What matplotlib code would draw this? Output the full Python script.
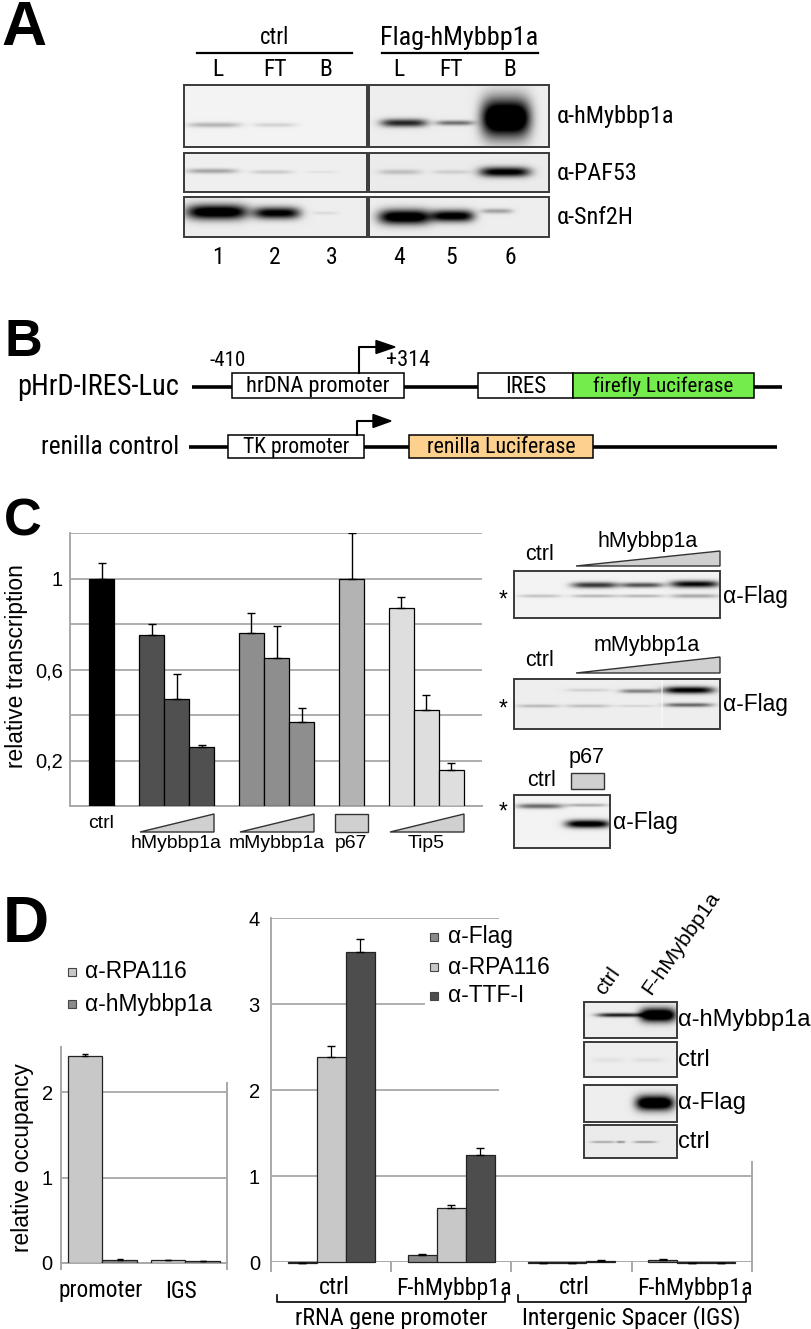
import numpy as np
import matplotlib
matplotlib.use('Agg')
import matplotlib.pyplot as plt
from matplotlib.patches import Rectangle, Polygon
from matplotlib import font_manager
from matplotlib.textpath import TextPath
from matplotlib.font_manager import FontProperties

# ---------------- data ----------------
# Panel C: relative transcription (luciferase reporter)
c_groups = ['ctrl', 'hMybbp1a', 'mMybbp1a', 'p67', 'Tip5']
c_ctrl = [1.00]
c_ctrl_err = [0.07]
c_hmyb = [0.75, 0.47, 0.26]
c_hmyb_err = [0.05, 0.11, 0.01]
c_mmyb = [0.76, 0.65, 0.37]
c_mmyb_err = [0.09, 0.14, 0.06]
c_p67 = [1.00]
c_p67_err = [0.20]
c_tip5 = [0.87, 0.42, 0.16]
c_tip5_err = [0.05, 0.07, 0.03]
c_yticks = [0.2, 0.6, 1.0]
c_yticklabels = ['0,2', '0,6', '1']
c_grid = [0.2, 0.4, 0.6, 0.8, 1.0, 1.2]

# Panel D left: relative occupancy
dl_cats = ['promoter', 'IGS']
dl_series = ['α-RPA116', 'α-hMybbp1a']
dl_rpa116 = [2.42, 0.03]
dl_rpa116_err = [0.02, 0.0]
dl_hmyb = [0.04, 0.025]
dl_hmyb_err = [0.004, 0.0]
dl_yticks = [0, 1, 2]

# Panel D middle: ChIP
dm_cats = ['ctrl', 'F-hMybbp1a', 'ctrl', 'F-hMybbp1a']
dm_regions = ['rRNA gene promoter', 'Intergenic Spacer (IGS)']
dm_series = ['α-Flag', 'α-RPA116', 'α-TTF-I']
dm_flag = [-0.01, 0.08, -0.01, 0.02]
dm_flag_err = [0.0, 0.015, 0.0, 0.015]
dm_rpa116 = [2.38, 0.63, -0.01, -0.01]
dm_rpa116_err = [0.13, 0.03, 0.0, 0.0]
dm_ttf = [3.60, 1.25, 0.01, -0.01]
dm_ttf_err = [0.16, 0.08, 0.01, 0.0]
dm_yticks = [0, 1, 2, 3, 4]

# Panel A western blot labels
a_conditions = ['ctrl', 'Flag-hMybbp1a']
a_lanes = ['L', 'FT', 'B', 'L', 'FT', 'B']
a_numbers = ['1', '2', '3', '4', '5', '6']
a_antibodies = ['α-hMybbp1a', 'α-PAF53', 'α-Snf2H']

# ---------------- setup ----------------
W, H = 812, 1329
fig = plt.figure(figsize=(W / 100, H / 100), dpi=100)
fig.patch.set_facecolor('white')
names = {f.name for f in font_manager.fontManager.ttflist}
REG = ['Liberation Sans', 'DejaVu Sans']
NAR = REG
NARROW_OK = False
for cand in ['Liberation Sans Narrow', 'Arial Narrow', 'Roboto Condensed',
             'Open Sans Condensed', 'Nimbus Sans Narrow']:
    if cand in names:
        NAR = [cand, 'Liberation Sans', 'DejaVu Sans']
        NARROW_OK = True
        break
NBOOST = 1.0 if NARROW_OK else 1.08
plt.rcParams['font.family'] = REG
renderer = fig.canvas.get_renderer()


def fit_size(s, width, family=REG, weight='normal'):
    t = fig.text(0, 0, s, fontsize=10, family=family, weight=weight)
    w = t.get_window_extent(renderer).width
    t.remove()
    return 10.0 * width / w


def ink_size(s, height_px, family=REG, weight='bold'):
    tp = TextPath((0, 0), s, size=10, prop=FontProperties(family=family, weight=weight))
    h = tp.get_extents().height
    return 10.0 * height_px / (h * 100.0 / 72.0)


def pax(x0, y0, x1, y1):
    return fig.add_axes([x0 / W, 1 - y1 / H, (x1 - x0) / W, (y1 - y0) / H])


ov = fig.add_axes([0, 0, 1, 1], zorder=10)
ov.patch.set_alpha(0)
ov.axis('off')


def T(x, y, s, w=None, size=12, family=REG, **kw):
    if w:
        size = fit_size(s, w, family, kw.get('weight', 'normal'))
    return ov.text(x, y, s, fontsize=size, family=family, **kw)


def px(ax, x, y=0):
    d = ax.transData.transform((x, y))
    return d[0], H - d[1]


def blot(x0, y0, x1, y1, bands, bg=0.93, split=None):
    nx = int((x1 - x0) * 2)
    ny = int((y1 - y0) * 2)
    xs = np.linspace(x0, x1, nx)
    ys = np.linspace(y0, y1, ny)
    X, Y = np.meshgrid(xs, ys)
    img = np.full((ny, nx), bg)
    for cx, cy, w, h, a in bands:
        gx = np.exp(-0.8 * np.abs((X - cx) / (w / 2.0)) ** 4)
        gy = np.exp(-((Y - cy) / (h / 2.0)) ** 2)
        img = img - a * gx * gy
    if split is not None:
        k = np.argmin(np.abs(xs - split))
        img[:, k:k + 2] = 0.99
    img = np.clip(img, 0, 1)
    ov.imshow(img, cmap='gray', vmin=0, vmax=1, extent=(x0, x1, y1, y0),
              aspect='auto', interpolation='bilinear', zorder=3)
    ov.add_patch(Rectangle((x0, y0), x1 - x0, y1 - y0, fill=False,
                           ec='#3a3a3a', lw=1.4, zorder=4))


GRID = '#a8a8a8'


def panel_letter(x, y_base, s, height):
    ov.text(x, y_base, s, fontsize=ink_size(s, height, REG, 'bold'), family=REG,
            weight='bold', ha='left', va='baseline')


# ================= Panel A =================
panel_letter(1, 45, 'A', 43)
sA = fit_size('ctrl', 29, NAR) * NBOOST
T(275, 38, a_conditions[0], size=sA, family=NAR, ha='center', va='center')
T(459, 38, a_conditions[1], size=fit_size(a_conditions[1], 158, NAR) * NBOOST,
  family=NAR, ha='center', va='center')
ov.plot([197, 352], [53, 53], color='k', lw=1.6)
ov.plot([382, 538], [53, 53], color='k', lw=1.6)
lane_x = [218, 275, 326, 399, 451, 510]
for lx, lab, num in zip(lane_x, a_lanes, a_numbers):
    T(lx, 70, lab, size=sA * 1.05, family=NAR, ha='center', va='center')
    T(lx + (6 if num == '3' else 0), 257, num, size=sA * 1.05, family=NAR, ha='center', va='center')

rows = [(85, 147), (153, 192), (197, 237)]
a_bands_left = [
    [(214, 125, 50, 5, 0.25), (275, 125, 40, 4, 0.13)],
    [(212, 171, 48, 5, 0.30), (272, 172, 40, 4, 0.15), (322, 172, 30, 3, 0.06)],
    [(217, 212, 58, 15, 1.15), (277, 213, 44, 12, 1.0), (325, 213, 24, 3, 0.08)],
]
a_bands_right = [
    [(404, 123, 44, 8, 0.8), (455, 123, 36, 5, 0.5), (506, 118, 46, 38, 1.4)],
    [(400, 172, 40, 5, 0.18), (452, 172, 36, 4, 0.12), (505, 172, 48, 10, 1.0)],
    [(405, 217, 50, 15, 1.15), (453, 216, 40, 12, 1.05), (497, 211, 30, 5, 0.3)],
]
bgs = [(0.95, 0.93), (0.94, 0.92), (0.93, 0.93)]
for (y0, y1), bl, br, (g1, g2) in zip(rows, a_bands_left, a_bands_right, bgs):
    blot(184, y0, 367, y1, bl, bg=g1)
    blot(369, y0, 549, y1, br, bg=g2)
sAb = fit_size(a_antibodies[0], 117, NAR) * NBOOST
for (y0, y1), lab in zip(rows, a_antibodies):
    T(557, (y0 + y1) / 2 + 1, lab, size=sAb, family=NAR, ha='left', va='center')

# ================= Panel B =================
panel_letter(4, 356, 'B', 36)
T(179, 387, 'pHrD-IRES-Luc', w=163, family=NAR, ha='right', va='center')
T(179, 447, 'renilla control', w=138, family=NAR, ha='right', va='center')
ov.plot([192, 782], [387, 387], color='k', lw=2.6, zorder=2, solid_capstyle='butt')
ov.plot([189, 777], [447, 447], color='k', lw=2.6, zorder=2, solid_capstyle='butt')
boxes_B = [
    (232, 373, 404, 398, 'white', 'hrDNA promoter', 143),
    (478, 373, 573, 398, 'white', 'IRES', 41),
    (573, 373, 754, 398, '#74ec4c', 'firefly Luciferase', 140),
    (228, 435, 364, 458, 'white', 'TK promoter', 106),
    (409, 435, 593, 458, '#fdd08e', 'renilla Luciferase', 148),
]
for x0, y0, x1, y1, fc, lab, tw in boxes_B:
    ov.add_patch(Rectangle((x0, y0), x1 - x0, y1 - y0, fc=fc, ec='k', lw=1.1, zorder=3))
    T((x0 + x1) / 2, (y0 + y1) / 2 + 1, lab, w=tw, family=NAR, ha='center',
      va='center', zorder=4)
# transcription start arrows
ov.plot([359, 359, 378], [373, 347, 347], color='k', lw=1.5, zorder=4)
ov.add_patch(Polygon([(376, 340.5), (395, 347), (376, 353.5)], closed=True, fc='k', ec='k', zorder=4))
ov.plot([357, 357, 375], [435, 421, 421], color='k', lw=1.5, zorder=4)
ov.add_patch(Polygon([(373, 414.5), (391, 421), (373, 427.5)], closed=True, fc='k', ec='k', zorder=4))
T(228, 361, '-410', w=36, family=NAR, ha='center', va='center')
T(408, 361, '+314', w=44, family=NAR, ha='center', va='center')

# ================= Panel C chart =================
panel_letter(4, 535, 'C', 37)
ax_c = pax(70, 533, 482, 806)
c_series = [c_ctrl, c_hmyb, c_mmyb, c_p67, c_tip5]
c_errs = [c_ctrl_err, c_hmyb_err, c_mmyb_err, c_p67_err, c_tip5_err]
c_colors = ['#000000', '#505050', '#8e8e8e', '#b3b3b3', '#dedede']
c_positions = []
pos = 0
for vals in c_series:
    p = np.arange(len(vals)) + pos
    c_positions.append(p)
    pos = p[-1] + 2
for p, vals, errs, col in zip(c_positions, c_series, c_errs, c_colors):
    ax_c.bar(p, vals, width=1.0, color=col, edgecolor='black', linewidth=0.9, zorder=3)
    ax_c.errorbar(p, vals, yerr=[np.zeros(len(errs)), errs], fmt='none', ecolor='black',
                  elinewidth=1.0, capsize=2.6, capthick=1.0, zorder=4)
ax_c.set_xlim(-1.26, 15.22)
ax_c.set_ylim(0, 1.2)
for g in c_grid:
    ax_c.axhline(g, color=GRID, lw=1.3, zorder=1)
ax_c.set_yticks(c_yticks)
ax_c.set_yticklabels(c_yticklabels)
ax_c.set_xticks([])
tick_size = fit_size('0,6', 28)
ax_c.tick_params(axis='y', length=0, pad=5, labelsize=tick_size)
for s in ['top', 'right']:
    ax_c.spines[s].set_visible(False)
for s in ['left', 'bottom']:
    ax_c.spines[s].set_color(GRID)
    ax_c.spines[s].set_linewidth(1.4)
ax_c.patch.set_alpha(0)
T(17, 666, 'relative transcription', w=205, ha='center', va='center', rotation=90)

# labels and wedges under panel C chart
sCl = fit_size('hMybbp1a', 90)
for name, p in zip(c_groups, c_positions):
    xl, _ = px(ax_c, p[0] - 0.5)
    xr, _ = px(ax_c, p[-1] + 0.5)
    xc = (xl + xr) / 2
    if len(p) == 1 and name == 'ctrl':
        T(xc, 823, name, size=sCl, ha='center', va='center')
        continue
    if len(p) == 1:
        ov.add_patch(Rectangle((xl - 4, 814), xr - xl + 8, 18, fc='#d0d0d0', ec='#333333', lw=1))
    else:
        ov.add_patch(Polygon([(xl + 1, 832), (xr, 814), (xr, 832)], closed=True,
                             fc='#d0d0d0', ec='#333333', lw=1))
    T(xc, 844, name, size=sCl, ha='center', va='center')

# Panel C blots
sCb = fit_size('hMybbp1a', 100)
sFlag = fit_size('α-Flag', 65)
# hMybbp1a blot
T(540, 555, 'ctrl', size=sCb, family=REG, ha='center', va='center')
T(648, 542, 'hMybbp1a', size=sCb, ha='center', va='center')
ov.add_patch(Polygon([(576, 566), (720, 551), (720, 566)], closed=True, fc='#d0d0d0', ec='#333333', lw=1))
blot(514, 571, 720, 618, [
    (540, 596, 40, 3, 0.2),
    (595, 585, 44, 6, 0.75), (595, 596, 44, 3, 0.25),
    (642, 585, 40, 5, 0.65), (642, 596, 40, 3, 0.25),
    (695, 584, 46, 7, 0.95), (695, 596, 46, 4, 0.3)], bg=0.95)
T(503, 600, '*', size=sFlag, ha='center', va='center')
T(723, 596, 'α-Flag', size=sFlag, ha='left', va='center')
# mMybbp1a blot
T(540, 661, 'ctrl', size=sCb, ha='center', va='center')
T(647, 645, 'mMybbp1a', size=sCb, ha='center', va='center')
ov.add_patch(Polygon([(576, 673), (720, 657), (720, 673)], closed=True, fc='#d0d0d0', ec='#333333', lw=1))
blot(514, 679, 720, 729, [
    (538, 706, 40, 3, 0.22),
    (588, 690, 42, 3, 0.12), (588, 706, 42, 3, 0.2),
    (640, 691, 38, 4, 0.45), (636, 706, 36, 2, 0.12),
    (689, 690, 48, 7, 1.0), (689, 705, 46, 4, 0.55)], bg=0.93, split=662)
T(503, 709, '*', size=sFlag, ha='center', va='center')
T(723, 704, 'α-Flag', size=sFlag, ha='left', va='center')
# p67 blot
T(587, 758, 'p67', size=sCb, ha='center', va='center')
T(542, 781, 'ctrl', size=sCb, ha='center', va='center')
ov.add_patch(Rectangle((571, 773), 33, 16, fc='#d0d0d0', ec='#333333', lw=1))
blot(514, 795, 610, 848, [
    (540, 806, 44, 5, 0.55),
    (587, 805, 40, 3, 0.3), (588, 824, 42, 8, 1.1)], bg=0.95)
T(503, 812, '*', size=sFlag, ha='center', va='center')
T(613, 823, 'α-Flag', size=sFlag, ha='left', va='center')

# ================= Panel D left chart =================
panel_letter(3, 942, 'D', 44)
ax_dl = pax(61, 1047, 227, 1263)
bw = 0.42
xl_idx = np.arange(len(dl_cats))
ax_dl.bar(xl_idx - bw / 2, dl_rpa116, width=bw, color='#c8c8c8', edgecolor='#222222', lw=0.9, zorder=3)
ax_dl.bar(xl_idx + bw / 2, dl_hmyb, width=bw, color='#8a8a8a', edgecolor='#222222', lw=0.9, zorder=3)
ax_dl.errorbar(xl_idx - bw / 2, dl_rpa116, yerr=[np.zeros(2), dl_rpa116_err], fmt='none',
               ecolor='black', elinewidth=0.9, capsize=2, zorder=4)
ax_dl.errorbar(xl_idx + bw / 2, dl_hmyb, yerr=[np.zeros(2), dl_hmyb_err], fmt='none',
               ecolor='black', elinewidth=0.9, capsize=2, zorder=4)
ax_dl.set_xlim(-0.5, 1.5)
ax_dl.set_ylim(0, 216 / 85.5)
for g in [1, 2]:
    ax_dl.axhline(g, color=GRID, lw=1.3, zorder=1)
ax_dl.set_yticks(dl_yticks)
ax_dl.set_xticks([])
ax_dl.tick_params(axis='y', length=0, pad=6, labelsize=tick_size)
for s in ['top', 'right']:
    ax_dl.spines[s].set_visible(False)
for s in ['left', 'bottom']:
    ax_dl.spines[s].set_color(GRID)
    ax_dl.spines[s].set_linewidth(1.4)
ax_dl.plot([1.5, 1.5], [-0.07, 2.1], color=GRID, lw=1.4, clip_on=False)
ax_dl.plot([-0.5, -0.5], [-0.07, 0], color=GRID, lw=1.4, clip_on=False)
ax_dl.patch.set_alpha(0)
sDc = fit_size('promoter', 84, NAR) * NBOOST
for i, c in enumerate(dl_cats):
    x, _ = px(ax_dl, i)
    T(x - 2 if i == 0 else x - 4, 1291, c, size=sDc, family=NAR, ha='center', va='center')
T(23, 1158, 'relative occupancy', w=190, ha='center', va='center', rotation=90)
sLeg = fit_size('α-RPA116', 102)
for lab, col, yy in zip(dl_series, ['#c8c8c8', '#8a8a8a'], [972, 1004]):
    ov.add_patch(Rectangle((68, yy - 4.5), 8, 8, fc=col, ec='#444444', lw=0.8))
    T(85, yy, lab, size=sLeg, ha='left', va='center')

# ================= Panel D middle chart =================
ax_dm = pax(271, 918, 752, 1262)
bw2 = 0.241
xm_idx = np.arange(len(dm_cats))
dm_vals = [dm_flag, dm_rpa116, dm_ttf]
dm_errs = [dm_flag_err, dm_rpa116_err, dm_ttf_err]
dm_cols = ['#8a8a8a', '#c8c8c8', '#4d4d4d']
for k, (vals, errs, col) in enumerate(zip(dm_vals, dm_errs, dm_cols)):
    xs = xm_idx + (k - 1) * bw2
    ax_dm.bar(xs, vals, width=bw2, color=col, edgecolor='#222222', lw=0.9, zorder=3, clip_on=False)
    ax_dm.errorbar(xs, vals, yerr=[np.zeros(len(errs)), errs], fmt='none', ecolor='black',
                   elinewidth=0.9, capsize=2.6, zorder=4, clip_on=False)
ax_dm.set_xlim(-0.5, 3.5)
ax_dm.set_ylim(0, 4)
for g in [1, 2, 3, 4]:
    ax_dm.axhline(g, color=GRID, lw=1.3, zorder=1)
ax_dm.set_yticks(dm_yticks)
ax_dm.set_xticks([])
ax_dm.tick_params(axis='y', length=0, pad=8, labelsize=tick_size)
for s in ['top', 'right', 'bottom']:
    ax_dm.spines[s].set_visible(False)
ax_dm.spines['left'].set_color(GRID)
ax_dm.spines['left'].set_linewidth(1.4)
ax_dm.axhline(0, color=GRID, lw=1.4, zorder=2)
for b in np.arange(-0.5, 3.6, 1.0):
    ax_dm.plot([b, b], [-0.1, 0], color=GRID, lw=1.4, clip_on=False)
ax_dm.plot([3.5, 3.5], [0, 1.19], color=GRID, lw=1.4, clip_on=False)
ax_dm.patch.set_alpha(0)
sDm = fit_size('F-hMybbp1a', 116, NAR) * NBOOST
for i, c in enumerate(dm_cats):
    x, _ = px(ax_dm, i)
    T(x + 3, 1288, c, size=sDm, family=NAR, ha='center', va='center')
sBr = fit_size(dm_regions[0], 192, NAR) * NBOOST
for j, reg in enumerate(dm_regions):
    xa, _ = px(ax_dm, 2 * j - 0.45)
    xb, _ = px(ax_dm, 2 * j + 1.45)
    ov.plot([xa, xa, xb, xb], [1295, 1302, 1302, 1295], color='k', lw=1.2)
    T((xa + xb) / 2, 1318, reg, size=sBr, family=NAR, ha='center', va='center')

# white areas behind legend and inset blot
ov.add_patch(Rectangle((425, 925), 75, 85, fc='white', ec='none', zorder=0.5))
ov.add_patch(Rectangle((499, 880), 313, 281, fc='white', ec='none', zorder=0.5))
for lab, col, yy in zip(dm_series, dm_cols, [937, 967, 996]):
    ov.add_patch(Rectangle((430, yy - 4.5), 8, 8, fc=col, ec='#444444', lw=0.8, zorder=2))
    T(448, yy, lab, size=sLeg, ha='left', va='center')

# inset blot D
sIn = fit_size('α-hMybbp1a', 132)
sHead = fit_size('F-hMybbp1a', 120)
T(604, 996, 'ctrl', size=sHead, ha='left', va='baseline', rotation=55, rotation_mode='anchor')
T(651, 996, 'F-hMybbp1a', size=sHead, ha='left', va='baseline', rotation=55, rotation_mode='anchor')
blot(584, 1002, 677, 1038, [(620, 1015, 44, 4, 0.85), (658, 1015, 34, 14, 1.3)], bg=0.93)
blot(584, 1042, 677, 1077, [(608, 1060, 30, 4, 0.05), (648, 1060, 30, 4, 0.06)], bg=0.93)
blot(584, 1085, 677, 1122, [(655, 1103, 36, 15, 1.3)], bg=0.93)
blot(584, 1125, 677, 1158, [(603, 1142, 24, 2, 0.3), (621, 1142, 8, 2, 0.4),
                            (645, 1142, 22, 2, 0.35)], bg=0.92)
for lab, yy in zip(['α-hMybbp1a', 'ctrl', 'α-Flag', 'ctrl'], [1020, 1060, 1103, 1142]):
    T(678, yy, lab, size=sIn, ha='left', va='center')

ov.set_xlim(0, W)
ov.set_ylim(H, 0)
fig.savefig('out.png', dpi=100, facecolor='white')
